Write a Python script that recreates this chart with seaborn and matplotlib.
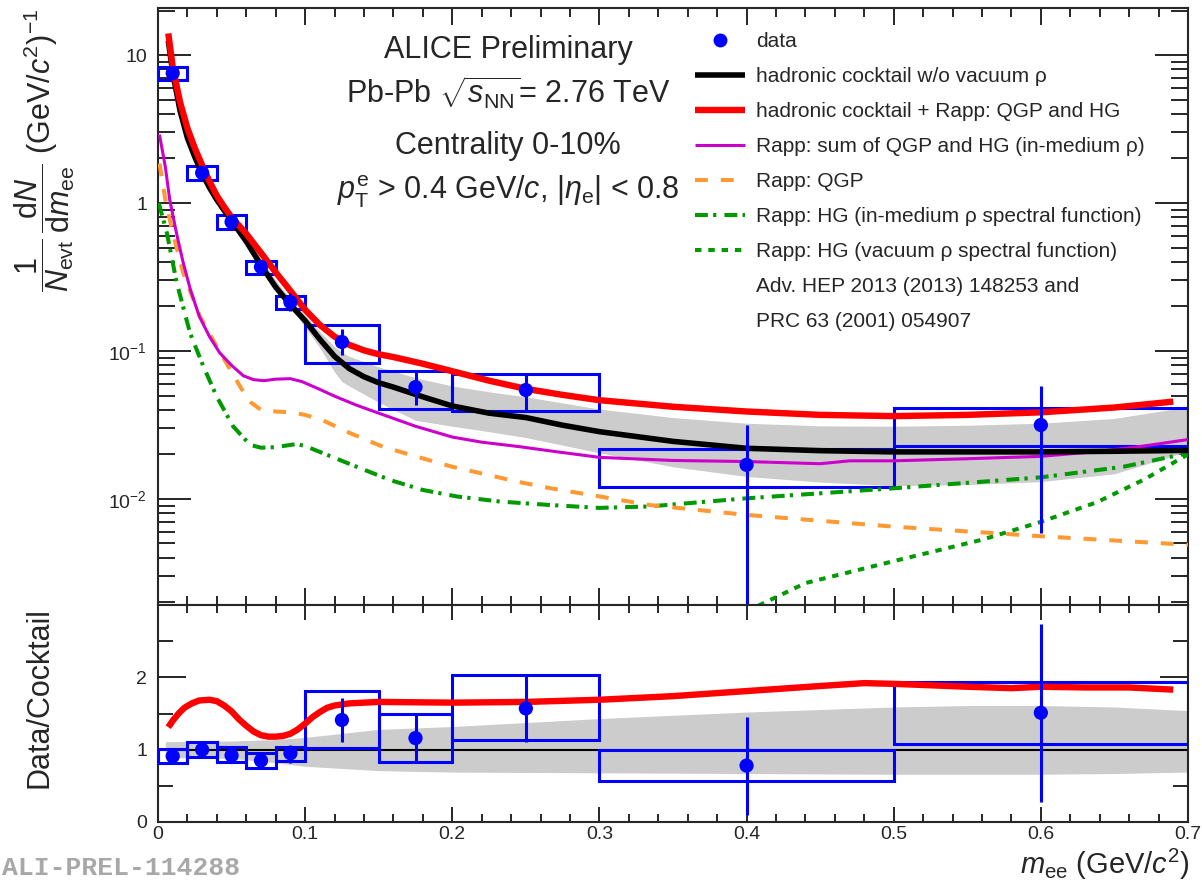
import numpy as np
import matplotlib
matplotlib.use("Agg")
import matplotlib.pyplot as plt
import seaborn as sns
from matplotlib.lines import Line2D
from matplotlib.ticker import LogLocator, MultipleLocator, FuncFormatter, NullFormatter, FixedLocator

# ---------------------------------------------------------------- data
# dielectron yield, Pb-Pb 0-10%, per mass bin
bin_lo = [0.00, 0.02, 0.04, 0.06, 0.08, 0.10, 0.15, 0.20, 0.30, 0.50]
bin_hi = [0.02, 0.04, 0.06, 0.08, 0.10, 0.15, 0.20, 0.30, 0.50, 0.70]
yield_val = [7.55, 1.60, 0.745, 0.37, 0.214, 0.115, 0.057, 0.0545, 0.017, 0.0316]
yield_stat_lo = [7.1, 1.50, 0.70, 0.35, 0.185, 0.094, 0.043, 0.040, 1e-4, 0.0059]
yield_stat_hi = [8.0, 1.70, 0.79, 0.39, 0.245, 0.141, 0.072, 0.069, 0.0316, 0.058]
yield_sys_lo = [6.8, 1.43, 0.667, 0.331, 0.192, 0.083, 0.0406, 0.0394, 0.01205, 0.0228]
yield_sys_hi = [8.3, 1.78, 0.83, 0.406, 0.236, 0.150, 0.0733, 0.070, 0.0218, 0.0412]

# data / cocktail
ratio_val = [0.91, 1.00, 0.92, 0.85, 0.95, 1.41, 1.16, 1.57, 0.78, 1.51]
ratio_stat_lo = [0.88, 0.97, 0.89, 0.82, 0.81, 1.11, 0.82, 1.11, 0.10, 0.28]
ratio_stat_hi = [0.94, 1.03, 0.95, 0.88, 1.06, 1.71, 1.50, 2.05, 1.45, 2.74]
ratio_sys_lo = [0.81, 0.90, 0.83, 0.75, 0.84, 1.02, 0.83, 1.14, 0.56, 1.08]
ratio_sys_hi = [1.01, 1.10, 1.03, 0.95, 1.04, 1.81, 1.50, 2.03, 1.00, 1.94]

# hadronic cocktail without vacuum rho
cocktail_x = [0.007, 0.01, 0.015, 0.02, 0.025, 0.03, 0.035, 0.04, 0.045, 0.05,
              0.06, 0.07, 0.08, 0.09, 0.10, 0.11, 0.12, 0.13, 0.14, 0.15,
              0.16, 0.18, 0.20, 0.225, 0.25, 0.275, 0.30, 0.35, 0.40, 0.45,
              0.50, 0.55, 0.60, 0.65, 0.70]
cocktail_y = [12.5, 7.6, 4.2, 2.75, 2.05, 1.58, 1.27, 1.05, 0.89, 0.76,
              0.55, 0.38, 0.27, 0.205, 0.160, 0.120, 0.092, 0.076, 0.067, 0.061,
              0.057, 0.049, 0.0425, 0.038, 0.0355, 0.0315, 0.0285, 0.0245, 0.0220, 0.0212,
              0.0208, 0.0208, 0.0208, 0.0210, 0.0213]

# cocktail systematic band
band_x = [0.006, 0.01, 0.015, 0.02, 0.03, 0.04, 0.05, 0.06, 0.07, 0.08,
          0.09, 0.10, 0.11, 0.12, 0.125, 0.13, 0.15, 0.175, 0.20, 0.225,
          0.25, 0.30, 0.35, 0.40, 0.45, 0.50, 0.55, 0.60, 0.65, 0.70]
band_hi = [14.5, 8.4, 4.7, 3.1, 1.75, 1.16, 0.84, 0.60, 0.42, 0.30,
           0.225, 0.175, 0.135, 0.107, 0.098, 0.092, 0.078, 0.066, 0.058, 0.053,
           0.049, 0.0405, 0.0355, 0.0325, 0.0312, 0.031, 0.0315, 0.0325, 0.035, 0.042]
band_lo = [12.0, 7.3, 4.1, 2.7, 1.55, 1.03, 0.75, 0.54, 0.375, 0.265,
           0.20, 0.145, 0.105, 0.072, 0.062, 0.058, 0.045, 0.034, 0.031, 0.0285,
           0.026, 0.0205, 0.0165, 0.0142, 0.0130, 0.0123, 0.0125, 0.0131, 0.0148, 0.021]

# cocktail + Rapp QGP and HG
total_x = [0.007, 0.01, 0.015, 0.02, 0.025, 0.03, 0.035, 0.04, 0.045, 0.05,
           0.06, 0.07, 0.08, 0.09, 0.10, 0.11, 0.12, 0.13, 0.14, 0.15,
           0.16, 0.18, 0.20, 0.225, 0.25, 0.275, 0.30, 0.35, 0.40, 0.45,
           0.50, 0.55, 0.60, 0.65, 0.69]
total_y = [14.0, 8.3, 4.8, 3.2, 2.35, 1.80, 1.40, 1.12, 0.94, 0.80,
           0.62, 0.46, 0.34, 0.255, 0.190, 0.150, 0.125, 0.110, 0.101, 0.095,
           0.091, 0.082, 0.073, 0.063, 0.0555, 0.0505, 0.0465, 0.042, 0.0390, 0.0370,
           0.0363, 0.0370, 0.0385, 0.0415, 0.0455]

# Rapp: sum of QGP and HG (in-medium rho)
rapp_sum_x = [0.001, 0.005, 0.008, 0.0125, 0.017, 0.022, 0.028, 0.035, 0.042, 0.05,
              0.058, 0.065, 0.072, 0.08, 0.09, 0.098, 0.11, 0.12, 0.135, 0.15,
              0.175, 0.20, 0.22, 0.245, 0.27, 0.30, 0.35, 0.40, 0.45, 0.47,
              0.50, 0.55, 0.60, 0.64, 0.67, 0.70]
rapp_sum_y = [2.9, 1.75, 1.05, 0.63, 0.40, 0.26, 0.172, 0.125, 0.097, 0.080,
              0.068, 0.064, 0.063, 0.0645, 0.065, 0.062, 0.055, 0.0495, 0.043, 0.038,
              0.031, 0.0262, 0.0242, 0.0226, 0.0209, 0.0191, 0.0182, 0.0179, 0.0173, 0.0181,
              0.0181, 0.0187, 0.0194, 0.021, 0.0228, 0.0252]

# Rapp: QGP
qgp_x = [0.001, 0.005, 0.01, 0.017, 0.0285, 0.04, 0.05, 0.057, 0.063, 0.07,
         0.08, 0.09, 0.10, 0.112, 0.13, 0.153, 0.176, 0.20, 0.221, 0.244,
         0.267, 0.30, 0.334, 0.40, 0.50, 0.60, 0.70]
qgp_y = [1.85, 1.05, 0.63, 0.34, 0.171, 0.107, 0.072, 0.055, 0.045, 0.040,
         0.039, 0.0385, 0.037, 0.034, 0.028, 0.0225, 0.0193, 0.0165, 0.0148, 0.0131,
         0.0118, 0.0104, 0.0091, 0.0078, 0.0065, 0.0056, 0.0049]

# Rapp: HG, in-medium rho spectral function
hg_med_x = [0.0005, 0.006, 0.0127, 0.0218, 0.031, 0.04, 0.051, 0.0626, 0.07, 0.08,
            0.094, 0.10, 0.112, 0.135, 0.158, 0.18, 0.203, 0.2325, 0.2665, 0.30,
            0.334, 0.40, 0.50, 0.60, 0.656, 0.70]
hg_med_y = [1.0, 0.63, 0.29, 0.132, 0.078, 0.049, 0.031, 0.0232, 0.0222, 0.0224,
            0.0235, 0.0228, 0.0204, 0.0165, 0.0134, 0.0115, 0.0104, 0.0096, 0.0091, 0.0087,
            0.0089, 0.0101, 0.0118, 0.0140, 0.0165, 0.0204]

# Rapp: HG, vacuum rho spectral function
hg_vac_x = [0.408, 0.44, 0.50, 0.56, 0.60, 0.638, 0.67, 0.70]
hg_vac_y = [0.0019, 0.0027, 0.0038, 0.0053, 0.0070, 0.0095, 0.0135, 0.0200]

# ratio of (cocktail + Rapp) to cocktail
ratio_model_x = [0.007, 0.01, 0.014, 0.018, 0.023, 0.028, 0.035, 0.04, 0.045, 0.05,
                 0.055, 0.06, 0.065, 0.07, 0.075, 0.08, 0.085, 0.09, 0.095, 0.10,
                 0.105, 0.11, 0.115, 0.12, 0.13, 0.15, 0.20, 0.25, 0.30, 0.35,
                 0.40, 0.45, 0.48, 0.50, 0.55, 0.58, 0.60, 0.63, 0.66, 0.69]
ratio_model_y = [1.31, 1.40, 1.50, 1.58, 1.64, 1.68, 1.69, 1.67, 1.61, 1.53,
                 1.42, 1.33, 1.25, 1.20, 1.18, 1.18, 1.19, 1.22, 1.28, 1.36,
                 1.45, 1.52, 1.58, 1.61, 1.64, 1.66, 1.65, 1.66, 1.69, 1.74,
                 1.81, 1.88, 1.92, 1.91, 1.87, 1.85, 1.87, 1.86, 1.86, 1.83]

# relative cocktail uncertainty in the ratio panel
rband_x = [0.005, 0.05, 0.08, 0.10, 0.15, 0.20, 0.30, 0.40, 0.50, 0.55, 0.60, 0.65, 0.70]
rband_hi = [1.11, 1.12, 1.14, 1.17, 1.28, 1.32, 1.43, 1.52, 1.59, 1.61, 1.61, 1.59, 1.54]
rband_lo = [0.89, 0.88, 0.82, 0.77, 0.71, 0.69, 0.68, 0.67, 0.66, 0.66, 0.66, 0.67, 0.69]

legend_labels = ["data",
                 "hadronic cocktail w/o vacuum ρ",
                 "hadronic cocktail + Rapp: QGP and HG",
                 "Rapp: sum of QGP and HG (in-medium ρ)",
                 "Rapp: QGP",
                 "Rapp: HG (in-medium ρ spectral function)",
                 "Rapp: HG (vacuum ρ spectral function)",
                 "Adv. HEP 2013 (2013) 148253 and",
                 "PRC 63 (2001) 054907"]

# ---------------------------------------------------------------- style
sns.set_style("ticks")
plt.rcParams["font.family"] = ["Liberation Sans", "DejaVu Sans"]
plt.rcParams["mathtext.fontset"] = "custom"
plt.rcParams["mathtext.rm"] = "Liberation Sans"
plt.rcParams["mathtext.it"] = "Liberation Sans:italic"
plt.rcParams["mathtext.bf"] = "Liberation Sans:bold"
plt.rcParams["axes.linewidth"] = 1.5

BLUE = "#0000ff"
RED = "#ff0000"
MAGENTA = "#cc00cc"
ORANGE = "#ff9933"
GREEN = "#009900"
GRAY = "#cccccc"

W, H = 1202, 882
fig = plt.figure(figsize=(W / 100, H / 100), dpi=100)
fig.patch.set_facecolor("white")
ax = fig.add_axes([158 / W, (H - 605) / H, 1030 / W, 597 / H])
axr = fig.add_axes([158 / W, (H - 822) / H, 1030 / W, 217 / H])

bin_c = (np.array(bin_lo) + np.array(bin_hi)) / 2
bin_w = np.array(bin_hi) - np.array(bin_lo)


def draw_line(axis, x, y, color, lw, dashes=None, z=4):
    sns.lineplot(x=x, y=y, ax=axis, color=color, linewidth=lw, estimator=None,
                 sort=False, zorder=z)
    line = axis.get_lines()[-1]
    if dashes is not None:
        line.set_dashes(dashes)
    line.set_solid_capstyle("butt")
    line.set_dash_capstyle("butt")
    return line


def draw_points(axis, val, lo, hi, slo, shi):
    val = np.array(val)
    # systematic boxes
    axis.bar(bin_c, np.array(shi) - np.array(slo), bottom=slo, width=bin_w,
             fill=False, edgecolor=BLUE, linewidth=2.2, zorder=3)
    # statistical bars
    axis.errorbar(bin_c, val, yerr=[val - np.array(lo), np.array(hi) - val],
                  fmt="none", ecolor=BLUE, elinewidth=2.2, capsize=0, zorder=6)
    sns.scatterplot(x=bin_c, y=val, ax=axis, color=BLUE, s=105, edgecolor="none",
                    linewidth=0, zorder=7, legend=False)


# ---------------------------------------------------------------- top panel
ax.set_yscale("log")
ax.fill_between(band_x, band_lo, band_hi, color=GRAY, linewidth=0, zorder=1)
draw_points(ax, yield_val, yield_stat_lo, yield_stat_hi, yield_sys_lo, yield_sys_hi)

l_hg_vac = draw_line(ax, hg_vac_x, hg_vac_y, GREEN, 2.9, dashes=(1.6, 1.7))
l_hg_med = draw_line(ax, hg_med_x, hg_med_y, GREEN, 2.9, dashes=(3.2, 1.3, 0.8, 2.0))
l_qgp = draw_line(ax, qgp_x, qgp_y, ORANGE, 2.9, dashes=(3.2, 3.2))
l_sum = draw_line(ax, rapp_sum_x, rapp_sum_y, MAGENTA, 2.2)
l_cock = draw_line(ax, cocktail_x, cocktail_y, "black", 4.0)
l_tot = draw_line(ax, total_x, total_y, RED, 4.6)

ax.set_xlim(0, 0.7)
ax.set_ylim(0.00192, 20.8)
ax.yaxis.set_major_locator(LogLocator(base=10, numticks=12))
ax.yaxis.set_minor_locator(LogLocator(base=10, subs=np.arange(2, 10), numticks=12))


def log_label(v, pos):
    e = int(round(np.log10(v)))
    if e == 0:
        return "1"
    if e == 1:
        return "10"
    return r"$10^{%d}$" % e


ax.yaxis.set_major_formatter(FuncFormatter(log_label))
ax.yaxis.set_minor_formatter(NullFormatter())
ax.xaxis.set_major_locator(MultipleLocator(0.1))
ax.xaxis.set_minor_locator(MultipleLocator(0.02))
ax.tick_params(axis="both", which="both", direction="in", top=True, right=True,
               labelbottom=False, width=1.4, labelsize=14)
ax.tick_params(axis="y", which="major", length=24, pad=8)
ax.tick_params(axis="y", which="minor", length=12)
ax.tick_params(axis="x", which="major", length=12)
ax.tick_params(axis="x", which="minor", length=6.5)
ax.set_xlabel("")
ax.set_ylabel("")

# legend
data_handle = Line2D([], [], marker="o", linestyle="none", color=BLUE,
                     markersize=10, markeredgewidth=0)
blank = Line2D([], [], linestyle="none")
handles = [data_handle, l_cock, l_tot, l_sum, l_qgp, l_hg_med, l_hg_vac, blank, blank]
ax.legend(handles, legend_labels, loc="upper left", bbox_to_anchor=(0.521, 0.960),
          frameon=False, fontsize=15, handlelength=2.4, handletextpad=0.55,
          labelspacing=0.77, borderpad=0, borderaxespad=0, numpoints=1)

# headline
txt_kw = dict(transform=ax.transAxes, ha="center", va="baseline", fontsize=22)
ax.text(0.34, 0.916, "ALICE Preliminary", **txt_kw)
ax.text(0.34, 0.839, r"Pb-Pb $\sqrt{s_{\mathrm{NN}}}$= 2.76 TeV", **txt_kw)
ax.text(0.34, 0.755, "Centrality 0-10%", **txt_kw)
ax.text(0.34, 0.680, r"$p_{\mathrm{T}}^{\mathrm{e}}$ > 0.4 GeV/$c$, |$\eta_{\mathrm{e}}$| < 0.8", **txt_kw)

# ---------------------------------------------------------------- ratio panel
axr.fill_between(rband_x, rband_lo, rband_hi, color=GRAY, linewidth=0, zorder=1)
axr.axhline(1.0, color="black", linewidth=1.5, zorder=2)
draw_points(axr, ratio_val, ratio_stat_lo, ratio_stat_hi, ratio_sys_lo, ratio_sys_hi)
draw_line(axr, ratio_model_x, ratio_model_y, RED, 4.6)

axr.set_xlim(0, 0.7)
axr.set_ylim(0, 3.0)
axr.xaxis.set_major_locator(MultipleLocator(0.1))
axr.xaxis.set_minor_locator(MultipleLocator(0.02))
axr.yaxis.set_major_locator(FixedLocator([0, 1, 2]))
axr.yaxis.set_minor_locator(FixedLocator([0.5, 1.5, 2.5]))
axr.xaxis.set_major_formatter(FuncFormatter(lambda v, p: "0" if abs(v) < 1e-9 else "%g" % round(v, 2)))
axr.tick_params(axis="both", which="both", direction="in", top=True, right=True,
                width=1.4, labelsize=14)
axr.tick_params(axis="y", which="major", length=20, pad=8)
axr.tick_params(axis="y", which="minor", length=11)
axr.tick_params(axis="x", which="major", length=11, pad=3)
axr.tick_params(axis="x", which="minor", length=6)
axr.set_xlabel("")
axr.set_ylabel("")

# ---------------------------------------------------------------- axis titles
fig.text(45 / W, 1 - 150 / H,
         r"$\dfrac{1}{N_{\mathrm{evt}}}\,\dfrac{\mathrm{d}N}{\mathrm{d}m_{\mathrm{ee}}}$ (GeV/$c^{2}$)$^{-1}$",
         rotation=90, ha="center", va="center", fontsize=22)
fig.text(40 / W, 1 - 698 / H, "Data/Cocktail", rotation=90, ha="center", va="center",
         fontsize=22)
fig.text(1190 / W, 1 - 874 / H, r"$m_{\mathrm{ee}}$ (GeV/$c^{2}$)", ha="right",
         va="baseline", fontsize=21)
fig.text(2 / W, 2 / H, "ALI-PREL-114288", ha="left", va="bottom", fontsize=19,
         family="Liberation Mono", weight="bold", color="#a8a8a8")

fig.savefig("out.png", dpi=100, facecolor="white")
